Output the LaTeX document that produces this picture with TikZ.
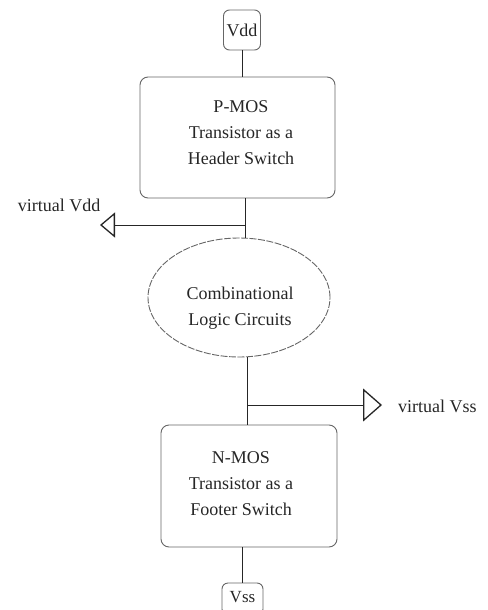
\documentclass[tikz,border=0pt]{standalone}
\usepackage{fontspec}
\setmainfont{Liberation Serif}
\usetikzlibrary{arrows.meta,shapes.geometric}
\begin{document}
\begin{tikzpicture}[x=1pt,y=-1pt,
  txt/.style={font=\fontsize{18}{26}\selectfont, align=center, inner sep=0pt, text=black!85},
  swbox/.style={draw=black!60, line width=0.9pt, rounded corners=8pt, inner sep=0pt},
  railbox/.style={draw=black!60, line width=0.9pt, rounded corners=6pt, inner sep=0pt, font=\fontsize{18}{22}\selectfont, text=black!85},
  wire/.style={draw=black!85, line width=1pt},
  vtip/.style={-{Triangle[open,length=15pt,width=25pt,line width=1.3pt]}},
  vtipb/.style={-{Triangle[open,length=19pt,width=33pt,line width=1.3pt]}}]
\useasboundingbox (0,0) rectangle (487,610);
\begin{scope}
\clip (0,0) rectangle (487,610);
% rails
\node[railbox, minimum width=37pt, minimum height=40pt] (vdd) at (242,30) {Vdd};
\node[railbox, minimum width=41pt, minimum height=32pt] (vss) at (242.5,599) {};
\node[txt, font=\fontsize{17}{22}\selectfont] (vsstext) at (242.5,597) {Vss};
% switch boxes
\node[swbox, minimum width=195pt, minimum height=121pt] (pmos) at (237.5,137.5) {};
\node[txt] (pmostext) at (241,133) {P-MOS\\Transistor as a\\Header Switch};
\node[swbox, minimum width=176pt, minimum height=122pt] (nmos) at (249,486) {};
\node[txt] (nmostext) at (241,484) {N-MOS\\Transistor as a\\Footer Switch};
% logic
\node[ellipse, draw=black!60, line width=0.9pt, dash pattern=on 7pt off 1.5pt, minimum width=182pt, minimum height=119pt, inner sep=0pt] (logic) at (239,297.5) {};
\node[txt] (logictext) at (240,308) {Combinational\\Logic Circuits};
% labels
\node[txt] (vvdd) at (59,205) {virtual Vdd};
\node[txt, anchor=west] (vvss) at (398,406) {virtual Vss};
% connectors
\coordinate (jd) at (245,225);
\coordinate (js) at (247,405);
\coordinate (tipd) at (100,225);
\coordinate (tips) at (382,405);
\draw[wire] (vdd.south) -- (vdd.south |- pmos.north);
\draw[wire] (jd |- pmos.south) -- (jd |- logic.north);
\draw[wire, vtip] (jd) -- (tipd);
\draw[wire] (js |- logic.south) -- (js |- nmos.north);
\draw[wire, vtipb] (js) -- (tips);
\draw[wire] (vss.north |- nmos.south) -- (vss.north);
\end{scope}
\end{tikzpicture}
\end{document}
